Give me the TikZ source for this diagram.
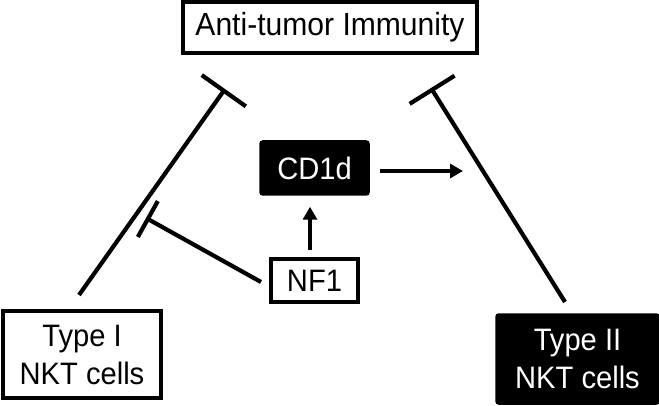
\documentclass[tikz,border=0pt]{standalone}
\usepackage{fontspec}
\setmainfont{Liberation Sans}[FakeStretch=0.94]
\usetikzlibrary{arrows.meta}
\begin{document}
\begin{tikzpicture}[x=1pt,y=-1pt,
  box/.style={draw=black,line width=3.5pt,fill=white,inner sep=0pt,align=center,
    font=\fontsize{31}{38}\selectfont},
  darkbox/.style={box,fill=black,text=white,rounded corners=2pt},
  inh/.style={line width=4.2pt,-{Bar[width=#1,line width=4.2pt]}},
  arr/.style={line width=4.2pt,-{Triangle[width=14pt,length=13pt]}}]
\useasboundingbox (0,0) rectangle (659,406);
\node[box,minimum width=294pt,minimum height=51pt,font=\fontsize{32}{38}\selectfont] (top) at (330,27.5) {Anti-tumor Immunity};
\node[box,minimum width=158pt,minimum height=87pt] (t1) at (82,354.5) {Type I\\NKT cells};
\node[darkbox,minimum width=161pt,minimum height=88pt] (t2) at (577.5,359) {Type II\\NKT cells};
\node[darkbox,minimum width=107pt,minimum height=52pt] (cd) at (314.5,168) {CD1d};
\node[box,minimum width=87pt,minimum height=43pt] (nf) at (314.5,280.5) {NF1};
% connector ends
\coordinate (l1s) at (79,295);
\coordinate (l1e) at (225,89);
\coordinate (l2s) at (565,302);
\coordinate (l2e) at (431,88);
\coordinate (l3s) at (261,282);
\coordinate (l3e) at (146,218);
\coordinate (a2e) at (463,171);
\draw[inh=54pt] (l1s) -- (l1e);
\draw[inh=53pt] (l2s) -- (l2e);
\draw[inh=41pt] (l3s) -- (l3e);
\draw[arr,shorten <=7pt,shorten >=11pt] ([xshift=-4.5pt]nf.north) -- ([xshift=-4.5pt]cd.south);
\draw[arr,shorten <=10pt] (cd.east |- a2e) -- (a2e);
\end{tikzpicture}
\end{document}
